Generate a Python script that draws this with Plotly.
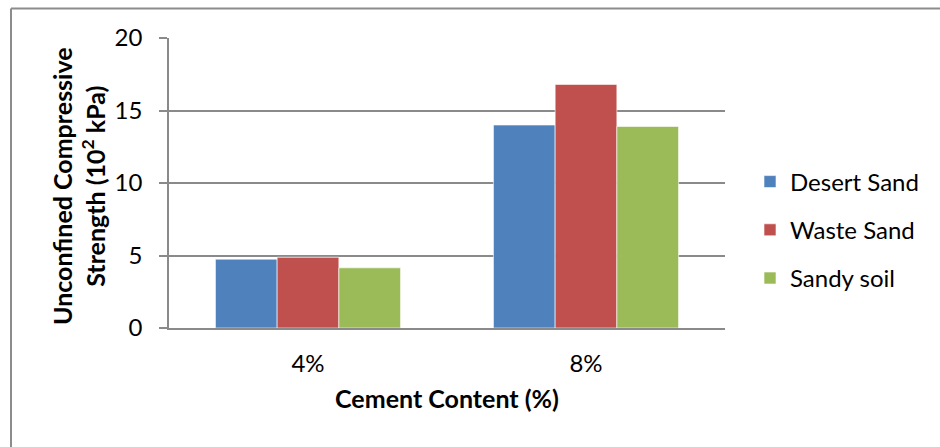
import plotly.graph_objects as go

# Unconfined compressive strength (10^2 kPa) by cement content
cement_content = ["4%", "8%"]
series_names = ["Desert Sand", "Waste Sand", "Sandy soil"]
desert_sand = [4.75, 14.0]
waste_sand = [4.88, 16.8]
sandy_soil = [4.15, 13.9]
y_ticks = [0, 5, 10, 15, 20]

colors = ["#4F81BD", "#C0504D", "#9BBB59"]
FONT = "Lato"

W, H = 940, 447
L, R, T, B = 169, 215, 38, 119
PW, PH = W - L - R, H - T - B


def px_x(px):
    return (px - L) / PW


def px_y(py):
    return (H - B - py) / PH


fig = go.Figure()
for name, vals, col in zip(series_names, [desert_sand, waste_sand, sandy_soil], colors):
    fig.add_trace(go.Bar(
        x=cement_content, y=vals, name=name, legendgroup=name,
        marker=dict(color=col, line=dict(color="rgba(255,255,255,0.6)", width=1)),
    ))

fig.update_layout(
    width=W, height=H,
    margin=dict(l=L, r=R, t=T, b=B),
    paper_bgcolor="white", plot_bgcolor="white",
    barmode="group", bargap=0.334, bargroupgap=0,
    font=dict(family=FONT, size=24, color="#000000"),
    legend=dict(
        x=px_x(750), xanchor="left", y=px_y(230), yanchor="middle",
        traceorder="grouped", tracegroupgap=14,
        font=dict(family=FONT, size=24, color="#000000"),
        itemwidth=30,
    ),
    xaxis=dict(
        showline=True, linecolor="#8a8a8a", linewidth=1.5,
        ticks="", ticklabelstandoff=13,
        tickfont=dict(family=FONT, size=24),
        title=dict(text="<b>Cement Content (%)</b>", standoff=15,
                   font=dict(family=FONT, size=25)),
    ),
    yaxis=dict(
        range=[0, 20], tickvals=y_ticks,
        showline=True, linecolor="#8a8a8a", linewidth=1.5,
        ticks="outside", ticklen=8, tickcolor="#8a8a8a", tickwidth=1.5,
        ticklabelstandoff=12,
        showgrid=True, gridcolor="#8a8a8a", gridwidth=1.5,
        zeroline=False,
        tickfont=dict(family=FONT, size=24),
    ),
    annotations=[dict(
        text="<b>Unconfined Compressive<br>Strength (10<sup>2</sup> kPa)</b>",
        xref="paper", yref="paper", x=px_x(78), y=px_y(186),
        xanchor="center", yanchor="middle", textangle=-90, showarrow=False,
        font=dict(family=FONT, size=25, color="#000000"),
    )],
    shapes=[
        dict(type="line", xref="paper", yref="paper",
             x0=px_x(11), x1=px_x(940), y0=px_y(8.5), y1=px_y(8.5),
             line=dict(color="#8c8c8c", width=2)),
        dict(type="line", xref="paper", yref="paper",
             x0=px_x(11), x1=px_x(11), y0=px_y(8.5), y1=px_y(447),
             line=dict(color="#8c8c8c", width=2)),
    ],
)

fig.write_html("out.html")
